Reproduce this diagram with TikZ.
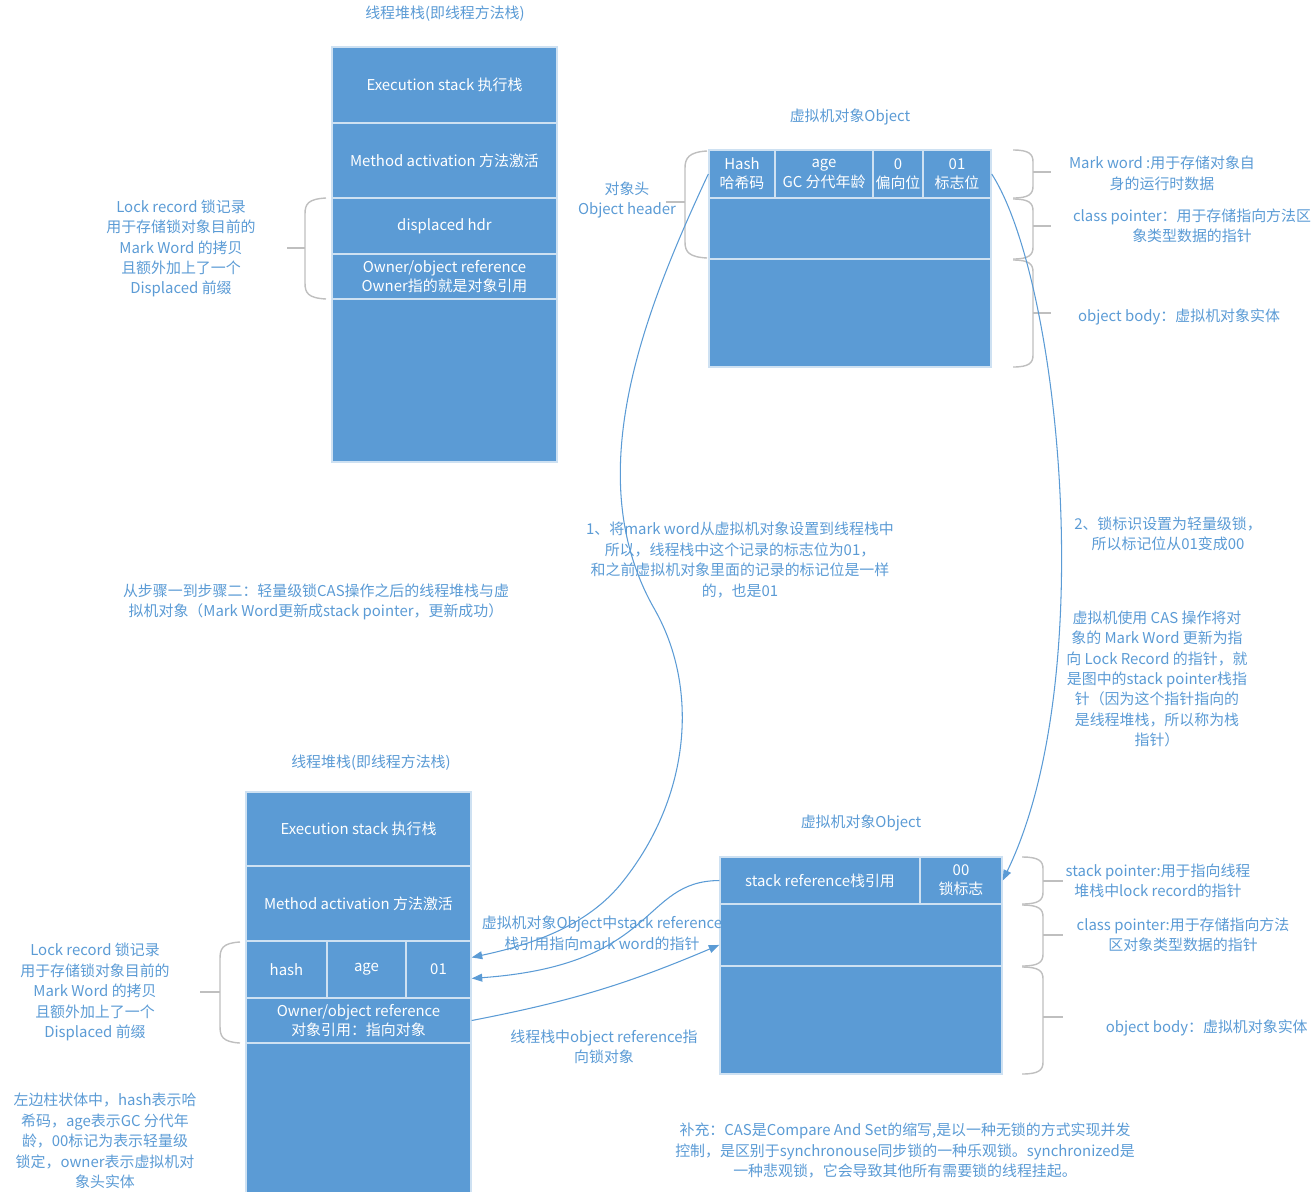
\documentclass[tikz,border=0pt]{standalone}
\usepackage{fontspec}
\setmainfont{Noto Sans CJK SC}
\usepackage{tikz}
\usetikzlibrary{arrows.meta}
\definecolor{cellblue}{HTML}{5B9BD5}
\definecolor{txtblue}{HTML}{5B9BD5}
\definecolor{brkgray}{HTML}{BFBFBF}

\begin{document}
\begin{tikzpicture}[x=0.02cm, y=-0.02cm,
	cell/.style={draw=white!70!cellblue, line width=.8pt, fill=cellblue, text=white, inner sep=0pt, align=center, font=\fontsize{8.5}{11}\selectfont},
	note/.style={text=txtblue, align=center, inner sep=0pt, font=\fontsize{8.5}{11.6}\selectfont},
	brk/.style={draw=brkgray, line width=.8pt},
	link/.style={draw=cellblue, line width=.6pt, -{Triangle[length=6pt,width=4.5pt]}}]
				\useasboundingbox (0,0) rectangle (1311,1191);
				\node[cell, minimum width=4.5cm, minimum height=1.52cm] (exec1) at (444.5,85) {Execution stack 执行栈};
				\node[cell, minimum width=4.5cm, minimum height=1.5cm] (meth1) at (444.5,160.5) {Method activation 方法激活};
				\node[cell, minimum width=4.5cm, minimum height=1.12cm] (disp1) at (444.5,226) {displaced hdr};
				\node[cell, minimum width=4.5cm, minimum height=.9cm] (own1) at (444.5,276.5) {Owner/object reference\\Owner指的就是对象引用};
				\node[cell, minimum width=4.5cm, minimum height=3.26cm] (rest1) at (444.5,380.5) {};
				\node[cell, minimum width=1.32cm, minimum height=.96cm] (hash) at (742,174) {Hash\\哈希码};
				\node[cell, minimum width=1.96cm, minimum height=.96cm] (age) at (824,174) {age\\GC 分代年龄};
				\node[cell, minimum width=1cm, minimum height=.96cm] (bias) at (898,174) {0\\偏向位};
				\node[cell, minimum width=1.36cm, minimum height=.96cm] (flag) at (957,174) {01\\标志位};
				\node[cell, minimum width=5.64cm, minimum height=1.22cm] (klass) at (850,228.5) {};
				\node[cell, minimum width=5.64cm, minimum height=2.16cm] (body) at (850,313) {};
				\node[cell, minimum width=4.5cm, minimum height=1.48cm] (exec2) at (358.5,829) {Execution stack 执行栈};
				\node[cell, minimum width=4.5cm, minimum height=1.5cm] (meth2) at (358.5,903.5) {Method activation 方法激活};
				\node[cell, minimum width=1.62cm, minimum height=1.14cm] (hash2) at (286.5,969.5) {hash};
				\node[cell, minimum width=1.58cm, minimum height=1.14cm] (age2) at (366.5,969.5) {age};
				\node[cell, minimum width=1.3cm, minimum height=1.14cm] (flag2) at (438.5,969.5) {01};
				\node[cell, minimum width=4.5cm, minimum height=.9cm] (own2) at (358.5,1020.5) {Owner/object reference\\对象引用：指向对象};
				\node[cell, minimum width=4.5cm, minimum height=3.08cm] (rest2) at (358.5,1120) {};
				\node[cell, minimum width=4cm, minimum height=.94cm] (sref) at (820,880.5) {stack reference栈引用};
				\node[cell, minimum width=1.64cm, minimum height=.94cm] (lock) at (961,880.5) {00\\锁标志};
				\node[cell, minimum width=5.64cm, minimum height=1.24cm] (klass2) at (861,935) {};
				\node[cell, minimum width=5.64cm, minimum height=2.16cm] (body2) at (861,1020) {};
				\draw[brk] (326,198) .. controls (308,199) and (305,204) .. (305,214) -- (305,283) .. controls (305,293) and (308,298) .. (326,299);
				\draw[brk] (287,248) -- (305,248);
				\draw[brk] (707,151) .. controls (689,152) and (685,158) .. (685,168) -- (685,242) .. controls (685,252) and (689,257) .. (707,258);
				\draw[brk] (666,202) -- (685,202);
				\draw[brk] (240,942) .. controls (222,943) and (220,949) .. (220,959) -- (220,1026) .. controls (220,1036) and (222,1042) .. (240,1043);
				\draw[brk] (200,992) -- (220,992);
				\foreach \ya/\yb/\ym in {150/198/172, 199/259/226, 260/367/313} {
					\draw[brk] (1013,\ya) .. controls (1029,\ya) and (1033,\ya+4) .. (1033,\ya+12) -- (1033,\yb-12) .. controls (1033,\yb-4) and (1029,\yb) .. (1013,\yb);
					\draw[brk] (1033,\ym) -- (1051,\ym);
				}
				\foreach \ya/\yb/\ym in {857/904/881, 905/966/935, 967/1074/1017} {
					\draw[brk] (1022,\ya) .. controls (1039,\ya) and (1043,\ya+4) .. (1043,\ya+12) -- (1043,\yb-12) .. controls (1043,\yb-4) and (1039,\yb) .. (1022,\yb);
					\draw[brk] (1043,\ym) -- (1063,\ym);
				}
				\node[note] (title1) at (445,14) {线程堆栈(即线程方法栈)};
				\node[note] (obj1) at (850,117) {虚拟机对象Object};
				\node[note] (lock1) at (181,248.5) {Lock record 锁记录\\用于存储锁对象目前的\\Mark Word 的拷贝\\且额外加上了一个\\Displaced 前缀};
				\node[note] (head1) at (627,200) {对象头\\Object header};
				\node[note] (mark1) at (1162,173.5) {Mark word :用于存储对象自\\身的运行时数据};
				\node[note] (klassnote1) at (1192,225.5) {class pointer：用于存储指向方法区\\象类型数据的指针};
				\node[note] (body1) at (1179,317) {object body：虚拟机对象实体};
				\node[note] (step1) at (740,560) {1、将mark word从虚拟机对象设置到线程栈中\\所以，线程栈中这个记录的标志位为01，\\和之前虚拟机对象里面的记录的标记位是一样\\的，也是01};
				\node[note] (step2) at (1168,534) {2、锁标识设置为轻量级锁，\\所以标记位从01变成00};
				\node[note] (cas1) at (1157,679) {虚拟机使用 CAS 操作将对\\象的 Mark Word 更新为指\\向 Lock Record 的指针，就\\是图中的stack pointer栈指\\针（因为这个指针指向的\\是线程堆栈，所以称为栈\\指针）};
				\node[note] (summary) at (316,602) {从步骤一到步骤二：轻量级锁CAS操作之后的线程堆栈与虚\\拟机对象（Mark Word更新成stack pointer，更新成功）};
				\node[note] (title2) at (371,763) {线程堆栈(即线程方法栈)};
				\node[note] (obj2) at (861,823) {虚拟机对象Object};
				\node[note] (lock2) at (95,992) {Lock record 锁记录\\用于存储锁对象目前的\\Mark Word 的拷贝\\且额外加上了一个\\Displaced 前缀};
				\node[note] (legend) at (105,1141) {左边柱状体中，hash表示哈\\希码，age表示GC 分代年\\龄，00标记为表示轻量级\\锁定，owner表示虚拟机对\\象头实体};
				\node[note] (srefnote) at (602,933.5) {虚拟机对象Object中stack reference\\栈引用指向mark word的指针};
				\node[note] (orefnote) at (604,1046.5) {线程栈中object reference指\\向锁对象};
				\node[note] (spnote) at (1158,880.5) {stack pointer:用于指向线程\\堆栈中lock record的指针};
				\node[note] (klassnote2) at (1183,935) {class pointer:用于存储指向方法\\区对象类型数据的指针};
				\node[note, anchor=east] (body2note) at (1308,1028) {object body：虚拟机对象实体};
				\node[note] (supp) at (905,1150.5) {补充：CAS是Compare And Set的缩写,是以一种无锁的方式实现并发\\控制，是区别于synchronouse同步锁的一种乐观锁。synchronized是\\一种悲观锁，它会导致其他所有需要锁的线程挂起。};
				\draw[link] (hash.west) .. controls (640,320) and (580,480) .. (655,610) .. controls (700,690) and (690,800) .. (620,885) .. controls (585,927) and (530,945) .. (flag2.20);
				\draw[link] (flag.east) .. controls (1060,280) and (1100,680) .. (lock.east);
				\draw[link] (sref.west) .. controls (640,881) and (660,965) .. (flag2.-15);
				\draw[link] (own2.east) to[bend right=6] (klass2.184);
			\end{tikzpicture}
\end{document}
